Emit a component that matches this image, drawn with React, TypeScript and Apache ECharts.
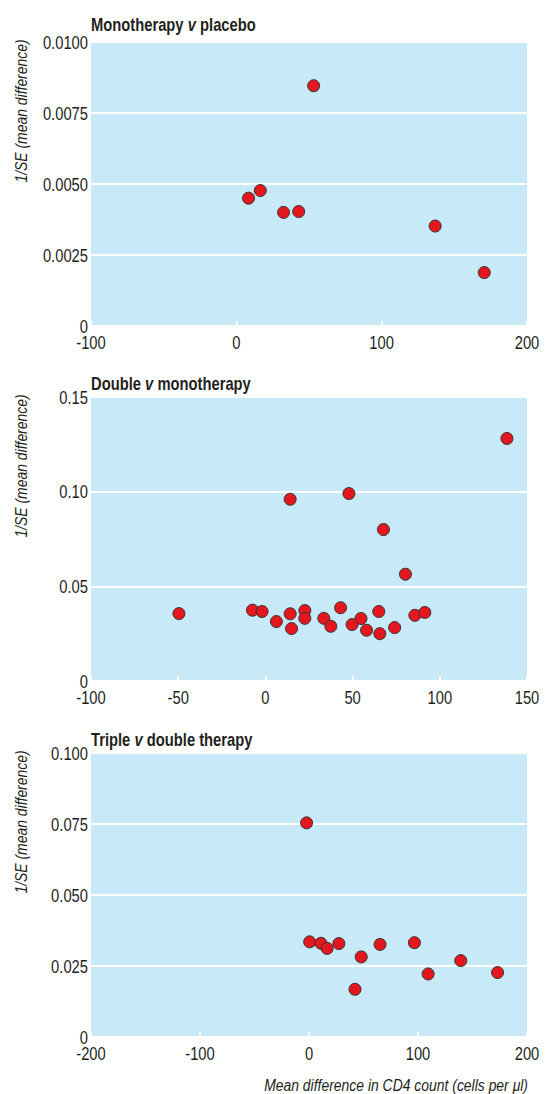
import React, { useEffect, useRef } from "react";
import * as echarts from "echarts";

// ---- Data ----
const titles = ["Monotherapy ", "Double ", "Triple "];
const titleRest = [" placebo", " monotherapy", " double therapy"];

const monoX = [8.4, 16.5, 32.5, 42.9, 53.2, 136.8, 170.6];
const monoY = [0.0045, 0.00477, 0.004, 0.00403, 0.00846, 0.00352, 0.00188];

const doubleX = [-49.6, -7.4, -1.9, 6.3, 14.2, 15.0, 14.2, 22.6, 22.6, 33.5, 37.5, 43.1, 47.9, 49.7, 54.8, 58.0, 65.0, 65.6, 67.7, 74.1, 80.3, 85.7, 91.4, 138.5];
const doubleY = [0.0356, 0.0374, 0.0367, 0.0314, 0.0355, 0.0277, 0.096, 0.0372, 0.0331, 0.0331, 0.0289, 0.0387, 0.099, 0.0298, 0.033, 0.0268, 0.0367, 0.025, 0.08, 0.0282, 0.0564, 0.0347, 0.0362, 0.1281];

const tripleX = [-2.2, 0.6, 11.0, 16.7, 27.4, 42.2, 47.9, 65.2, 96.7, 109.3, 139.2, 173];
const tripleY = [0.0754, 0.0335, 0.033, 0.0312, 0.0329, 0.0168, 0.0282, 0.0326, 0.0332, 0.0222, 0.0269, 0.0227];

const xTicks1 = ["-100", "0", "100", "200"];
const xTicks2 = ["-100", "-50", "0", "50", "100", "150"];
const xTicks3 = ["-200", "-100", "0", "100", "200"];
const yTicks1 = ["0", "0.0025", "0.0050", "0.0075", "0.0100"];
const yTicks2 = ["0", "0.05", "0.10", "0.15"];
const yTicks3 = ["0", "0.025", "0.050", "0.075", "0.100"];

const yAxisTitle = "1/SE (mean difference)";
const xAxisTitle = "Mean difference in CD4 count (cells per μl)";

const FONT = "'Liberation Sans', Arial, sans-serif";
const NARROW = 0.82;
const BG = "#c7e9f8";
const TEXT = "#231f20";

const LEFT = 91;
const RIGHT = 18;
const tops = [42, 397, 753];
const H = 284;

function axisPair(i: number, xt: string[], yt: string[]) {
  const xMin = Number(xt[0]);
  const xMax = Number(xt[xt.length - 1]);
  const xInt = Number(xt[1]) - Number(xt[0]);
  const yMax = Number(yt[yt.length - 1]);
  const yInt = Number(yt[1]);
  const xAxis = {
    type: "value",
    gridIndex: i,
    min: xMin,
    max: xMax,
    interval: xInt,
    axisLine: { show: false },
    axisTick: { show: true, inside: true, length: 5, lineStyle: { color: "#ffffff", width: 2 } },
    splitLine: { show: false },
    axisLabel: { show: false },
  };
  const yAxis = {
    type: "value",
    gridIndex: i,
    min: 0,
    max: yMax,
    interval: yInt,
    axisLine: { show: false },
    axisTick: { show: false },
    splitLine: { show: true, lineStyle: { color: "#ffffff", width: 2 } },
    axisLabel: { show: false },
  };
  return { xAxis, yAxis };
}

export default function App() {
  const ref = useRef<HTMLDivElement>(null);
  useEffect(() => {
    if (!ref.current) return;
    const chart = echarts.init(ref.current, undefined, { renderer: "svg" });
    const a1 = axisPair(0, xTicks1, yTicks1);
    const a2 = axisPair(1, xTicks2, yTicks2);
    const a3 = axisPair(2, xTicks3, yTicks3);
    const sets = [
      [monoX, monoY],
      [doubleX, doubleY],
      [tripleX, tripleY],
    ];
    chart.setOption({
      animation: false,
      grid: tops.map((t) => ({
        left: LEFT,
        right: RIGHT,
        top: t,
        height: H,
        show: true,
        backgroundColor: BG,
        borderWidth: 0,
      })),
      xAxis: [a1.xAxis, a2.xAxis, a3.xAxis],
      yAxis: [a1.yAxis, a2.yAxis, a3.yAxis],
      series: sets.map(([xs, ys], i) => ({
        type: "scatter",
        xAxisIndex: i,
        yAxisIndex: i,
        symbolSize: 12,
        itemStyle: { color: "#e4171e", borderColor: "#333333", borderWidth: 1, opacity: 1 },
        data: xs.map((x, k) => [x, ys[k]]),
      })),
    });

    const xTickSets = [xTicks1, xTicks2, xTicks3];
    const yTickSets = [yTicks1, yTicks2, yTicks3];
    const titleMid = [24.5, 383, 739];
    const graphics: any[] = [];
    tops.forEach((t, i) => {
      const xt = xTickSets[i];
      const yt = yTickSets[i];
      const xMin = Number(xt[0]);
      // x tick labels
      xt.forEach((s) => {
        const p = chart.convertToPixel({ gridIndex: i }, [Number(s), 0]) as number[];
        graphics.push({
          type: "text",
          x: p[0],
          y: p[1] + 16,
          scaleX: NARROW,
          style: {
            text: s,
            font: `18px ${FONT}`,
            fill: TEXT,
            textAlign: "center",
            textVerticalAlign: "middle",
          },
        });
      });
      // y tick labels
      yt.forEach((s) => {
        const p = chart.convertToPixel({ gridIndex: i }, [xMin, Number(s)]) as number[];
        graphics.push({
          type: "text",
          x: p[0] - 3,
          y: p[1],
          scaleX: NARROW,
          style: {
            text: s,
            font: `18px ${FONT}`,
            fill: TEXT,
            textAlign: "right",
            textVerticalAlign: "middle",
          },
        });
      });
      // panel title
      graphics.push({
        type: "text",
        x: LEFT,
        y: titleMid[i],
        scaleX: NARROW,
        style: {
          text: `{b|${titles[i]}}{i|v}{b|${titleRest[i]}}`,
          textVerticalAlign: "middle",
          rich: {
            b: { fontFamily: FONT, fontSize: 18, fontWeight: "bold", fill: TEXT, color: TEXT },
            i: { fontFamily: FONT, fontSize: 18, fontWeight: "bold", fontStyle: "italic", fill: TEXT, color: TEXT },
          },
        },
      });
      // y axis title
      graphics.push({
        type: "text",
        x: 21,
        y: t + 69,
        rotation: Math.PI / 2,
        scaleX: NARROW,
        style: {
          text: yAxisTitle,
          font: `italic 17px ${FONT}`,
          fill: TEXT,
          textAlign: "center",
          textVerticalAlign: "middle",
        },
      });
    });
    graphics.push({
      type: "text",
      x: 528,
      y: 1085,
      scaleX: NARROW,
      style: {
        text: xAxisTitle,
        font: `italic 17px ${FONT}`,
        fill: TEXT,
        textAlign: "right",
        textVerticalAlign: "middle",
      },
    });
    chart.setOption({ graphic: graphics });
    return () => chart.dispose();
  }, []);
  return (
    <div
      ref={ref}
      style={{ position: "absolute", left: 0, top: 0, width: 545, height: 1094, background: "#ffffff" }}
    />
  );
}
